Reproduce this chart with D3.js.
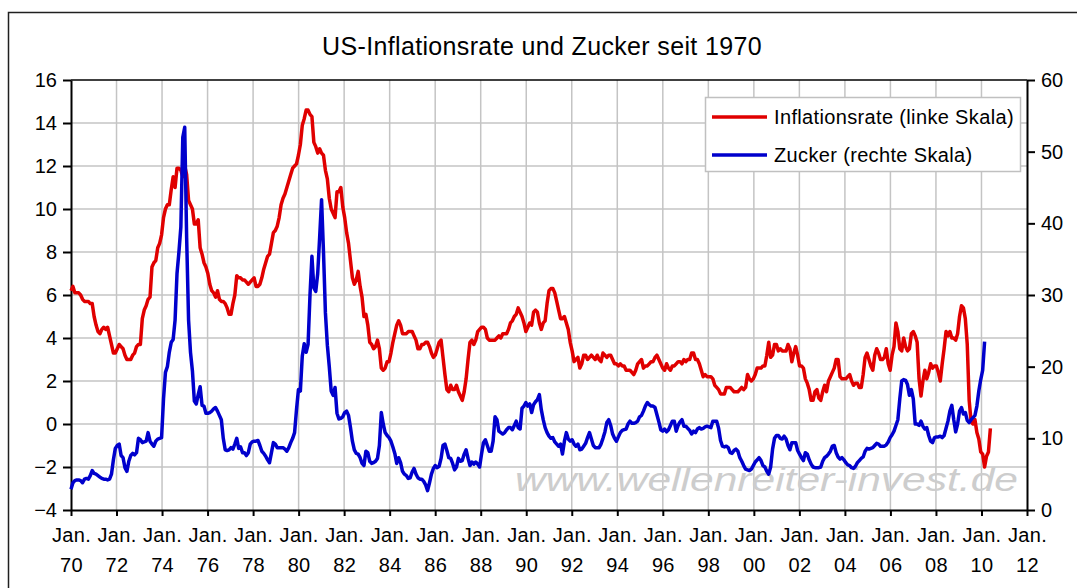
<!DOCTYPE html>
<html>
<head>
<meta charset="utf-8">
<script src="https://cdnjs.cloudflare.com/ajax/libs/d3/7.8.5/d3.min.js"></script>
<style>
  body { margin: 0; background: #FFFFFF; }
  svg { display: block; font-family: "Liberation Sans", Arial, sans-serif; }
</style>
</head>
<body>
<svg></svg>
<script>
//--Data (one value per month from Jan. 1970)
const chartTitle = "US-Inflationsrate und Zucker seit 1970";
const seriesNames = ["Inflationsrate (linke Skala)", "Zucker (rechte Skala)"];
const watermark = "www.wellenreiter-invest.de";

// US-Inflationsrate in % (left scale), Jan. 1970 - Oct. 2009
const inflation = [
  6.2, 6.4, 6.1, 6.1, 6.1, 6.0, 5.8, 5.7, 5.7, 5.7, 5.6, 5.6,
  5.0, 4.6, 4.3, 4.2, 4.4, 4.5, 4.4, 4.5, 4.1, 3.7, 3.3, 3.3,
  3.5, 3.7, 3.6, 3.5, 3.2, 3.0, 3.0, 3.0, 3.2, 3.3, 3.6, 3.7,
  3.7, 4.9, 5.3, 5.5, 5.8, 5.9, 7.3, 7.5, 7.6, 8.2, 8.4, 8.8,
  9.6, 10.0, 10.2, 10.2, 10.9, 11.5, 11.0, 11.9, 11.9, 11.8, 11.5, 12.0,
  11.6, 10.4, 10.2, 10.0, 9.3, 9.3, 9.5, 8.2, 7.9, 7.5, 7.3, 7.0,
  6.5, 6.2, 6.1, 5.9, 6.2, 5.8, 5.7, 5.7, 5.6, 5.4, 5.1, 5.1,
  5.6, 6.0, 6.9, 6.8, 6.8, 6.7, 6.7, 6.6, 6.5, 6.6, 6.7, 6.8,
  6.4, 6.4, 6.5, 6.8, 7.2, 7.5, 7.8, 7.9, 8.4, 8.9, 9.0, 9.2,
  9.6, 10.2, 10.5, 10.7, 11.0, 11.3, 11.6, 11.9, 12.0, 12.1, 12.5, 13.0,
  13.9, 14.2, 14.6, 14.6, 14.4, 14.3, 13.1, 12.9, 12.6, 12.8, 12.6, 12.5,
  11.8, 11.4, 10.5, 10.0, 9.8, 9.6, 10.8, 10.8, 11.0, 10.1, 9.6, 8.9,
  8.4, 7.6, 6.8, 6.5, 6.7, 7.1, 6.4, 5.9, 5.0, 5.1, 4.6, 3.8,
  3.7, 3.5, 3.6, 3.9, 3.5, 2.6, 2.5, 2.6, 2.9, 2.9, 3.3, 3.8,
  4.2, 4.6, 4.8, 4.6, 4.2, 4.2, 4.2, 4.3, 4.3, 4.3, 4.1, 3.9,
  3.5, 3.5, 3.7, 3.7, 3.8, 3.8, 3.6, 3.3, 3.1, 3.2, 3.5, 3.8,
  3.9, 3.1, 2.3, 1.6, 1.5, 1.8, 1.6, 1.6, 1.8, 1.5, 1.3, 1.1,
  1.5, 2.1, 3.0, 3.8, 3.9, 3.7, 3.9, 4.3, 4.4, 4.5, 4.5, 4.4,
  4.0, 3.9, 3.9, 3.9, 3.9, 4.0, 4.1, 4.0, 4.2, 4.2, 4.2, 4.4,
  4.7, 4.8, 5.0, 5.1, 5.4, 5.2, 5.0, 4.7, 4.3, 4.5, 4.7, 4.6,
  5.2, 5.3, 5.2, 4.7, 4.4, 4.7, 4.8, 5.6, 6.2, 6.3, 6.3, 6.1,
  5.7, 5.3, 4.9, 4.9, 5.0, 4.7, 4.4, 3.8, 3.4, 2.9, 3.0, 3.1,
  2.6, 2.8, 3.2, 3.2, 3.0, 3.1, 3.2, 3.1, 3.0, 3.2, 3.0, 2.9,
  3.3, 3.2, 3.1, 3.2, 3.2, 3.0, 2.8, 2.8, 2.7, 2.8, 2.7, 2.7,
  2.5, 2.5, 2.5, 2.4, 2.3, 2.5, 2.8, 2.9, 3.0, 2.6, 2.7, 2.7,
  2.8, 2.9, 2.9, 3.1, 3.2, 3.0, 2.8, 2.6, 2.5, 2.8, 2.6, 2.5,
  2.7, 2.7, 2.8, 2.9, 2.9, 2.8, 3.0, 2.9, 3.0, 3.0, 3.3, 3.3,
  3.0, 3.0, 2.8, 2.5, 2.2, 2.3, 2.2, 2.2, 2.2, 2.1, 1.8, 1.7,
  1.6, 1.4, 1.4, 1.4, 1.7, 1.7, 1.7, 1.6, 1.5, 1.5, 1.5, 1.6,
  1.7, 1.6, 1.7, 2.3, 2.1, 2.0, 2.1, 2.3, 2.6, 2.6, 2.6, 2.7,
  2.7, 3.2, 3.8, 3.1, 3.2, 3.7, 3.7, 3.4, 3.5, 3.4, 3.4, 3.4,
  3.7, 3.5, 2.9, 3.3, 3.6, 3.2, 2.7, 2.7, 2.6, 2.1, 1.9, 1.6,
  1.1, 1.1, 1.5, 1.6, 1.2, 1.1, 1.5, 1.8, 1.5, 2.0, 2.2, 2.4,
  2.6, 3.0, 3.0, 2.2, 2.1, 2.1, 2.1, 2.2, 2.3, 2.0, 1.8, 1.9,
  1.9, 1.7, 1.7, 2.3, 3.1, 3.3, 3.0, 2.7, 2.5, 3.2, 3.5, 3.3,
  3.0, 3.0, 3.1, 3.5, 2.8, 2.5, 3.2, 3.6, 4.7, 4.3, 3.5, 3.4,
  4.0, 3.6, 3.4, 3.5, 4.2, 4.3, 4.1, 3.8, 2.1, 1.3, 2.0, 2.5,
  2.1, 2.4, 2.8, 2.6, 2.7, 2.7, 2.4, 2.0, 2.8, 3.5, 4.3, 4.1,
  4.3, 4.0, 4.0, 3.9, 4.2, 5.0, 5.5, 5.4, 4.9, 3.7, 1.1, 0.1,
  0.0, 0.2, -0.4, -0.7, -1.3, -1.4, -2.0, -1.5, -1.3, -0.2
];

// Zucker in US-Cent (right scale), Jan. 1970 - Jul. 2009
const sugar = [
  2.9, 3.8, 4.1, 4.2, 4.2, 4.1, 3.8, 4.3, 4.4, 4.3, 4.8,
  5.5, 5.1, 5.0, 4.8, 4.6, 4.4, 4.3, 4.3, 4.2, 4.3, 5.0, 7.0,
  8.6, 9.0, 9.2, 7.6, 7.3, 5.9, 5.4, 6.8, 7.6, 7.9, 7.7, 8.0,
  10.0, 9.8, 9.4, 9.5, 9.6, 10.8, 9.6, 9.2, 8.9, 9.6, 9.9, 10.0,
  10.1, 15.5, 19.2, 20.0, 22.0, 23.4, 23.8, 26.5, 33.0, 36.0, 39.5, 52.0,
  53.4, 38.0, 26.5, 22.0, 19.4, 15.2, 14.8, 16.1, 17.2, 14.6, 14.5, 13.5,
  13.5, 13.6, 13.8, 14.1, 14.3, 13.8, 13.2, 12.6, 10.0, 8.4, 8.3, 8.4,
  8.7, 8.5, 9.2, 10.0, 8.6, 8.8, 8.0, 8.0, 7.6, 8.0, 9.2, 9.5,
  9.6, 9.6, 9.7, 9.0, 8.2, 7.9, 7.5, 7.0, 6.6, 8.0, 9.4, 9.2,
  8.7, 8.7, 8.7, 8.7, 8.5, 8.2, 8.7, 9.4, 10.0, 10.8, 14.0, 16.8,
  16.6, 21.5, 23.2, 22.0, 23.1, 30.0, 35.4, 31.0, 30.5, 33.0, 38.0, 43.3,
  36.0, 27.5, 23.0, 20.0, 16.6, 16.0, 17.1, 13.5, 12.7, 12.8, 13.0, 13.6,
  13.8, 13.2, 11.5, 9.6, 8.4, 7.9, 7.8, 7.3, 6.5, 6.2, 8.2, 8.0,
  6.8, 6.5, 6.6, 6.8, 7.2, 9.0, 13.6, 12.0, 10.8, 10.4, 10.1, 9.6,
  8.8, 7.9, 6.5, 7.3, 6.6, 5.4, 5.0, 4.8, 4.4, 4.5, 5.3, 5.8,
  5.0, 4.5, 4.3, 4.3, 4.0, 3.5, 2.7, 3.8, 5.0, 5.8, 6.2, 5.9,
  6.1, 7.2, 9.0, 9.2, 8.3, 7.3, 7.2, 6.5, 5.6, 6.0, 7.2, 6.8,
  6.9, 7.8, 8.4, 7.2, 6.2, 6.7, 6.4, 6.7, 6.4, 6.0, 7.8, 9.4,
  9.8, 9.0, 8.2, 8.2, 9.6, 13.0, 12.6, 11.0, 10.8, 10.6, 10.8, 11.2,
  11.5, 11.5, 11.2, 11.8, 12.4, 11.5, 11.3, 14.2, 14.5, 15.0, 14.5, 14.8,
  13.6, 14.7, 15.1, 15.4, 16.1, 14.0, 12.6, 11.5, 10.8, 10.3, 10.0, 10.1,
  9.5, 9.2, 8.9, 9.2, 7.8, 9.6, 10.8, 9.9, 9.6, 9.8, 9.2, 8.9,
  9.2, 8.4, 8.5, 8.9, 9.3, 10.1, 10.8, 9.9, 9.0, 8.7, 8.7, 8.7,
  9.2, 10.0, 10.9, 12.2, 12.6, 11.8, 10.6, 10.0, 9.6, 10.2, 10.8, 11.1,
  11.2, 11.3, 12.0, 12.4, 12.1, 12.1, 12.2, 12.4, 13.0, 13.2, 13.8, 14.5,
  15.0, 14.7, 14.5, 14.5, 14.3, 13.3, 12.3, 11.2, 11.0, 11.3, 10.9, 11.2,
  11.8, 12.4, 12.4, 11.0, 11.8, 12.3, 12.6, 11.7, 11.7, 11.4, 11.1, 10.6,
  11.0, 10.8, 11.3, 11.5, 11.3, 11.4, 11.6, 11.7, 11.6, 11.5, 12.4, 12.4,
  12.4, 11.4, 9.7, 8.9, 8.8, 8.9, 8.7, 8.0, 7.9, 8.3, 8.5, 8.2,
  7.3, 6.8, 6.2, 5.7, 5.6, 5.5, 5.7, 6.2, 6.7, 7.0, 7.3, 6.9,
  6.2, 6.0, 5.4, 5.0, 6.0, 8.5, 10.0, 10.4, 10.4, 10.0, 9.9, 10.3,
  9.9, 9.0, 8.4, 9.4, 9.4, 9.4, 8.3, 7.8, 7.3, 6.9, 8.0, 7.8,
  7.0, 6.4, 6.0, 5.9, 5.9, 5.9, 6.0, 6.8, 7.3, 7.5, 7.8, 8.2,
  8.9, 9.0, 8.0, 7.4, 7.1, 7.3, 7.0, 6.6, 6.3, 6.2, 5.9, 5.8,
  6.1, 6.6, 6.9, 7.2, 7.4, 8.2, 8.6, 8.5, 8.6, 8.7, 9.0, 9.3,
  9.2, 8.9, 8.9, 8.9, 9.1, 9.5, 10.1, 10.5, 11.0, 11.8, 12.6, 15.5,
  18.0, 18.2, 18.1, 17.5, 16.0, 16.8, 15.5, 12.0, 12.0, 11.8, 12.4, 11.7,
  11.3, 11.5, 10.4, 9.6, 9.4, 10.1, 10.2, 10.2, 10.3, 10.1, 10.4, 11.4,
  12.4, 13.8, 14.6, 12.6, 10.9, 12.0, 13.8, 14.3, 13.4, 13.6, 12.5, 12.2,
  12.6, 12.9, 13.2, 14.5, 16.6, 18.2, 19.5, 23.5
];

const leftTicks = [-4, -2, 0, 2, 4, 6, 8, 10, 12, 14, 16];
const rightTicks = [0, 10, 20, 30, 40, 50, 60];
const yearTicks = [1970, 1972, 1974, 1976, 1978, 1980, 1982, 1984, 1986, 1988, 1990,
  1992, 1994, 1996, 1998, 2000, 2002, 2004, 2006, 2008, 2010, 2012];

//--Shared info
var canvas = {
  width: 1077,
  height: 588,
  left: 71,
  right: 1027,
  top: 80,
  bottom: 510,
  red: "#E00000",
  blue: "#0000CC",
  grid: "#C4C4C4",
  fontSize: 20,
  // the chart spreads its monthly points a little wider than calendar months
  pointStep: 42 / 496
};
canvas.x = d3.scaleLinear().domain([1970, 2012]).range([canvas.left, canvas.right]);
canvas.yLeft = d3.scaleLinear().domain([-4, 16]).range([canvas.bottom, canvas.top]);
canvas.yRight = d3.scaleLinear().domain([0, 60]).range([canvas.bottom, canvas.top]);

//Setup root element
let root = d3
  .select("svg")
  .attr("width", canvas.width)
  .attr("height", canvas.height)
  .style("background-color", "#FFFFFF");

//Outer chart frame
root
  .append("rect")
  .attr("x", 8.5)
  .attr("y", 12.5)
  .attr("width", canvas.width + 20)
  .attr("height", canvas.height + 20)
  .attr("fill", "none")
  .attr("stroke", "#202020")
  .attr("stroke-width", 1.5);

//Title
root
  .append("text")
  .attr("x", 542)
  .attr("y", 55)
  .attr("text-anchor", "middle")
  .style("font-size", "25px")
  .style("letter-spacing", "0.35px")
  .text(chartTitle);

//--Grid
let grid = root.append("g").attr("stroke", canvas.grid).attr("stroke-width", 1.5);
grid
  .selectAll("line.h")
  .data(leftTicks.slice(1, -1))
  .enter()
  .append("line")
  .attr("x1", canvas.left)
  .attr("x2", canvas.right)
  .attr("y1", d => canvas.yLeft(d))
  .attr("y2", d => canvas.yLeft(d));
grid
  .selectAll("line.v")
  .data(yearTicks.slice(1, -1))
  .enter()
  .append("line")
  .attr("x1", d => canvas.x(d))
  .attr("x2", d => canvas.x(d))
  .attr("y1", canvas.top)
  .attr("y2", canvas.bottom);

//Watermark
root
  .append("text")
  .attr("x", 515)
  .attr("y", 491)
  .attr("textLength", 503)
  .attr("lengthAdjust", "spacingAndGlyphs")
  .style("font-size", "34px")
  .style("font-style", "italic")
  .style("fill", "#CDCDCD")
  .text(watermark);

//Top border of plot area
root
  .append("line")
  .attr("x1", canvas.left)
  .attr("x2", canvas.right)
  .attr("y1", canvas.top)
  .attr("y2", canvas.top)
  .attr("stroke", "#000000")
  .attr("stroke-width", 1.5);

//--Axes
function styleAxis(g) {
  g.attr("font-size", canvas.fontSize).attr("font-family", null);
  g.selectAll(".domain, .tick line").attr("stroke", "#000000").attr("stroke-width", 2);
  g.selectAll("text").attr("fill", "#000000");
}

root
  .append("g")
  .attr("transform", `translate(${canvas.left},0)`)
  .call(d3.axisLeft(canvas.yLeft).tickValues(leftTicks).tickSize(8).tickSizeOuter(0).tickPadding(6))
  .call(styleAxis);

root
  .append("g")
  .attr("transform", `translate(${canvas.right},0)`)
  .call(d3.axisRight(canvas.yRight).tickValues(rightTicks).tickSize(8).tickSizeOuter(0).tickPadding(6))
  .call(styleAxis);

let xAxis = root
  .append("g")
  .attr("transform", `translate(0,${canvas.bottom})`)
  .call(d3.axisBottom(canvas.x)
    .tickValues(yearTicks)
    .tickSize(6)
    .tickSizeOuter(0)
    .tickFormat(""))
  .call(styleAxis);

xAxis
  .selectAll(".tick")
  .append("text")
  .attr("text-anchor", "middle")
  .attr("fill", "#000000")
  .style("letter-spacing", "0.3px")
  .each(function(d) {
    let t = d3.select(this);
    t.append("tspan").attr("x", 0).attr("y", 32).text("Jan.");
    t.append("tspan").attr("x", 0).attr("y", 62).text(d3.format("02")(d % 100));
  });

//--Lines
let lines = [
  { name: seriesNames[0], values: inflation, y: canvas.yLeft, color: canvas.red },
  { name: seriesNames[1], values: sugar, y: canvas.yRight, color: canvas.blue }
];

lines.forEach(s => {
  root
    .append("path")
    .datum(s.values)
    .attr("fill", "none")
    .attr("stroke", s.color)
    .attr("stroke-width", 3.5)
    .attr("stroke-linejoin", "round")
    .attr("d", d3.line()
      .x((d, i) => canvas.x(1970 + i * canvas.pointStep))
      .y(d => s.y(d)));
});

//--Legend
let legend = root.append("g");
legend
  .append("rect")
  .attr("x", 705.5)
  .attr("y", 97.5)
  .attr("width", 315)
  .attr("height", 74)
  .attr("fill", "#FFFFFF")
  .attr("stroke", "#C0C0C0")
  .attr("stroke-width", 1.5);

let items = legend
  .selectAll("g.item")
  .data(lines)
  .enter()
  .append("g")
  .attr("transform", (d, i) => `translate(0,${117 + i * 38})`);
items
  .append("line")
  .attr("x1", 712)
  .attr("x2", 767)
  .attr("stroke", d => d.color)
  .attr("stroke-width", 3.5);
items
  .append("text")
  .attr("x", 774)
  .attr("y", 7)
  .style("font-size", canvas.fontSize + "px")
  .style("letter-spacing", "0.35px")
  .text(d => d.name);
</script>
</body>
</html>
